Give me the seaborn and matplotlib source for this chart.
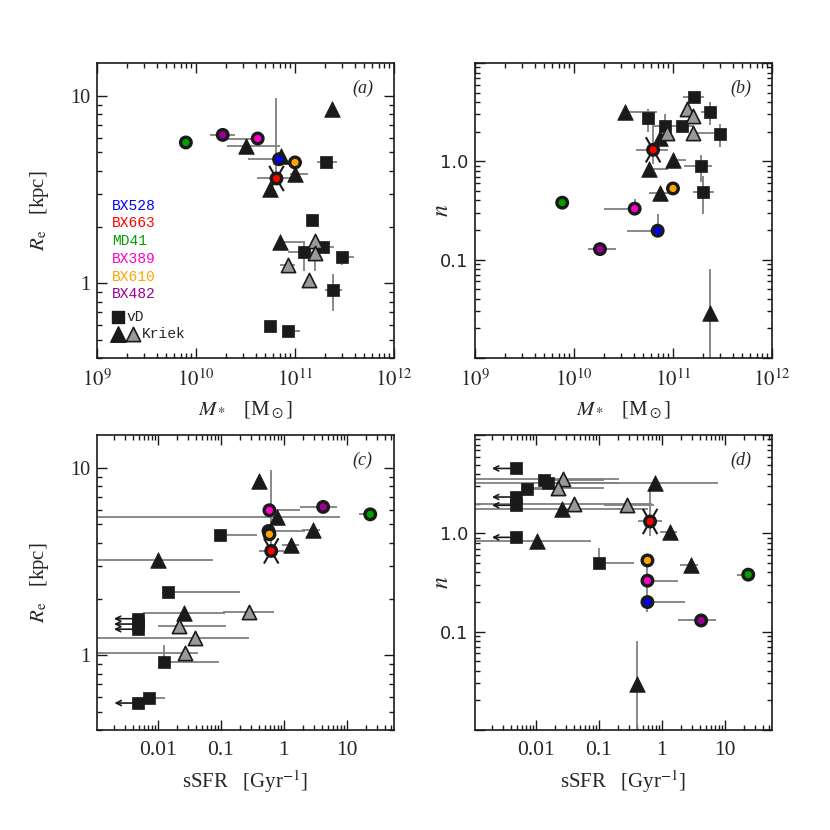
import numpy as np
import pandas as pd
import seaborn as sns
import matplotlib
matplotlib.use("Agg")
import matplotlib.pyplot as plt
from matplotlib.path import Path
from matplotlib.ticker import FixedLocator, FixedFormatter, LogLocator, NullFormatter

# SINS galaxies, same order in every panel
names = ["BX528", "BX663", "MD41", "BX389", "BX610", "BX482"]
colours = ["#0000ff", "#ff0000", "#00a000", "#ff00cc", "#ffa500", "#990099"]

# rows: x, y, x low, x high, y low, y high (None = no bar)
# panel (a): M* [Msun] vs Re [kpc]
a_sins = [
    (6.9e10, 4.60, 3.35e10, None, None, None),
    (6.5e10, 3.63, 4.1e10, 8.9e10, None, 9.8),
    (7.9e9, 5.65),
    (4.2e10, 5.93, 2.05e10, None),
    (1.0e11, 4.42, 8.5e10, 1.18e11),
    (1.86e10, 6.2, 1.38e10, 2.5e10),
]
a_vd = [
    (2.04e11, 4.42, 1.66e11, 2.63e11),
    (1.48e11, 2.18, None, None, 2.05, 2.35),
    (1.24e11, 1.47, 8.5e10, 1.95e11, 1.17, 1.69),
    (1.93e11, 1.57, 1.41e11, 2.46e11),
    (3.0e11, 1.38, 2.63e11, 3.9e11, 1.26, 1.47),
    (2.4e11, 0.925, 2.0e11, 2.95e11, 0.71, 1.12),
    (5.6e10, 0.59, None, None, 0.56, 0.63),
    (8.5e10, 0.557, 7.4e10, 1.12e11),
]
a_kriek = [
    (3.2e10, 5.42, 2.05e10, 7.1e10),
    (5.6e10, 3.19),
    (1.0e11, 3.83, 8.9e10, 1.35e11),
    (2.35e11, 8.5),
    (7.1e10, 1.67, None, 1.2e11),
    (7.3e10, 4.8),
]
a_kriek_grey = [
    (1.6e11, 1.69),
    (1.58e11, 1.45, None, None, 1.17, 1.69),
    (8.5e10, 1.25, 7.1e10, 1.0e11),
    (1.38e11, 1.04),
]

# panel (b): M* vs Sersic n
b_sins = [
    (7.0e10, 0.197, 3.4e10, None, None, 0.29),
    (6.3e10, 1.31, 4.2e10, 8.8e10, 0.93, 2.9),
    (7.6e9, 0.38),
    (4.1e10, 0.33, 2.0e10, None, None, 0.41),
    (1.0e11, 0.53),
    (1.83e10, 0.128, 1.38e10, 2.63e10),
]
b_vd = [
    (1.62e11, 4.47, 1.25e11, 2.04e11),
    (2.35e11, 3.21, 1.9e11, 2.8e11, 2.33, 3.98),
    (5.6e10, 2.78, None, None, 2.0, 3.42),
    (8.3e10, 2.28, 6.4e10, 1.07e11, 1.85, 3.05),
    (1.24e11, 2.28, 1.07e11, 1.62e11),
    (2.95e11, 1.89, None, None, 1.39, 2.42),
    (1.9e11, 0.89, 1.29e11, 2.5e11, 0.61, 1.17),
    (2.0e11, 0.49, 1.58e11, 2.6e11, 0.29, 0.71),
]
b_kriek = [
    (3.3e10, 3.16, None, 6.9e10),
    (7.4e10, 1.71),
    (1.0e11, 1.02, None, 1.35e11),
    (5.7e10, 0.83, None, 8.8e10),
    (7.4e10, 0.48, 5.7e10, 1.02e11),
    (2.35e11, 0.0286, None, None, 0.005, 0.08),
]
b_kriek_grey = [
    (1.38e11, 3.42),
    (1.58e11, 2.87),
    (8.6e10, 1.95),
    (1.59e11, 1.95, None, 2.6e11),
]

# panel (c): sSFR [1/Gyr] vs Re
c_sins = [
    (0.57, 4.61, None, 2.2),
    (0.63, 3.61, 0.4, 1.0, None, 9.8),
    (23.5, 5.66, 15.7, None),
    (0.59, 5.95, None, 1.78),
    (0.59, 4.43),
    (4.2, 6.2, 1.82, 7.1),
]
c_vd = [
    (0.097, 4.4, None, 0.37),
    (0.0145, 2.17, None, 0.2, 2.05, 2.3),
    (0.0125, 0.92, None, 0.093, None, 1.13),
    (0.0072, 0.59, None, 0.0132),
]
c_vd_limits = [(0.0048, 1.57), (0.0048, 1.47), (0.0048, 1.38), (0.0049, 0.557)]
c_kriek = [
    (0.41, 8.5),
    (0.78, 5.47, 1e-4, 7.8),
    (2.92, 4.65, 1.95, 3.8),
    (1.32, 3.87, 0.93, 1.72),
    (0.01, 3.22, 1e-4, 0.074),
    (0.026, 1.68, 0.0058, 0.117),
]
c_kriek_grey = [
    (0.28, 1.70, 0.11, 0.69),
    (0.0216, 1.44, 0.01, 0.12),
    (0.039, 1.24, 1e-4, 0.275),
    (0.027, 1.03, 1e-4, 0.044),
]

# panel (d): sSFR vs n
d_sins = [
    (0.59, 0.20, None, 2.3, 0.16, 0.26),
    (0.65, 1.32, 0.42, 1.0, 0.94, 2.9),
    (23.5, 0.38, 15.7, None),
    (0.59, 0.33, None, 1.78, 0.26, 0.5),
    (0.59, 0.53),
    (4.2, 0.13, 1.82, 7.2),
]
d_vd = [
    (0.0133, 3.49, None, 0.12),
    (0.0154, 3.24, None, 0.2),
    (0.0072, 2.84, None, 0.013),
    (0.1, 0.50, None, 0.36, None, 0.71),
]
d_vd_limits = [(0.0048, 4.57), (0.0048, 2.34), (0.0048, 1.93), (0.0048, 0.91)]
d_kriek = [
    (0.78, 3.28, 1e-4, 7.8),
    (0.026, 1.75, 1e-4, 0.6),
    (1.37, 1.04, 0.93, 1.72),
    (0.0104, 0.83, 1e-4, 0.074),
    (2.92, 0.48, 1.95, 3.8),
    (0.41, 0.0295, None, None, 0.005, 0.08),
]
d_kriek_grey = [
    (0.0273, 3.55, 1e-4, 0.21),
    (0.0222, 2.88, 0.0058, 0.12),
    (0.040, 2.0, 1e-4, 0.69),
    (0.284, 1.96, 0.12, 0.75),
]

BAR = "#808080"
GREY = "#999999"
COLS = ["x", "y", "xlo", "xhi", "ylo", "yhi"]

# four-spoke star drawn behind BX663
_ang = np.deg2rad([60, 120, 240, 300])
STAR = Path(
    [v for a in _ang for v in ((0.0, 0.0), (np.cos(a), np.sin(a)))],
    [c for _ in _ang for c in (Path.MOVETO, Path.LINETO)],
)

sns.set_theme(style="ticks")
plt.rcParams["font.family"] = ["Liberation Serif", "DejaVu Serif"]
plt.rcParams["mathtext.fontset"] = "stix"


def frame(rows):
    rows = [tuple(r) + (None,) * (6 - len(r)) for r in rows]
    return pd.DataFrame(rows, columns=COLS, dtype=float)


def bars(ax, df):
    ax.hlines(df.y, df.xlo.fillna(df.x), df.xhi.fillna(df.x), color=BAR, lw=1.3, zorder=1)
    ax.vlines(df.x, df.ylo.fillna(df.y), df.yhi.fillna(df.y), color=BAR, lw=1.3, zorder=1)


def draw_panel(ax, sins, vd, kriek, kriek_grey, limits=()):
    vd_df, kr_df, krg_df, s_df = frame(vd), frame(kriek), frame(kriek_grey), frame(sins)
    s_df["name"] = names
    for df in (vd_df, kr_df, krg_df, s_df):
        bars(ax, df)
    if limits:
        lim = pd.DataFrame(list(limits), columns=["x", "y"])
        for x, y in zip(lim.x, lim.y):
            ax.annotate("", xy=(x * 10 ** -0.38, y), xytext=(x, y),
                        arrowprops=dict(arrowstyle="->", color="k", lw=1.2,
                                        shrinkA=0, shrinkB=0, mutation_scale=9),
                        zorder=2)
        sns.scatterplot(data=lim, x="x", y="y", marker="s", s=72, color="k",
                        edgecolor="k", linewidth=0.5, ax=ax, zorder=3, legend=False)
    sns.scatterplot(data=vd_df, x="x", y="y", marker="s", s=72, color="k",
                    edgecolor="k", linewidth=0.5, ax=ax, zorder=3, legend=False)
    sns.scatterplot(data=kr_df, x="x", y="y", marker="^", s=125, color="k",
                    edgecolor="k", linewidth=0.6, ax=ax, zorder=3, legend=False)
    sns.scatterplot(data=krg_df, x="x", y="y", marker="^", s=105, color=GREY,
                    edgecolor="k", linewidth=1.2, ax=ax, zorder=3, legend=False)
    red = s_df[s_df.name == "BX663"]
    ax.scatter(red.x, red.y, marker=STAR, s=330, facecolor="none", edgecolor="k",
               lw=1.5, zorder=3.5)
    sns.scatterplot(data=s_df, x="x", y="y", hue="name", hue_order=names,
                    palette=colours, s=58, edgecolor="k", linewidth=2.4,
                    ax=ax, zorder=4, legend=False)


def style(ax, xlim, ylim, xmaj, xlab, ymaj, ylab, xsize):
    ax.set_xscale("log")
    ax.set_yscale("log")
    ax.set_xlim(xlim)
    ax.set_ylim(ylim)
    ax.xaxis.set_major_locator(FixedLocator(xmaj))
    ax.xaxis.set_major_formatter(FixedFormatter(xlab))
    ax.yaxis.set_major_locator(FixedLocator(ymaj))
    ax.yaxis.set_major_formatter(FixedFormatter(ylab))
    for axis in (ax.xaxis, ax.yaxis):
        axis.set_minor_locator(LogLocator(base=10, subs=np.arange(2, 10), numticks=30))
        axis.set_minor_formatter(NullFormatter())
    ax.tick_params(which="both", direction="in", top=True, right=True,
                   width=1.0, color="k")
    ax.tick_params(which="major", length=7)
    ax.tick_params(which="minor", length=3.5)
    ax.tick_params(axis="x", labelsize=xsize, pad=8)
    ax.tick_params(axis="y", labelsize=14.5, pad=5)
    for sp in ax.spines.values():
        sp.set_linewidth(1.2)
        sp.set_color("k")


fig = plt.figure(figsize=(8.3, 8.3), dpi=100)
W, H = 297 / 830, 295 / 830
ax_a = fig.add_axes([97 / 830, 1 - 358 / 830, W, H])
ax_b = fig.add_axes([475 / 830, 1 - 358 / 830, W, H])
ax_c = fig.add_axes([97 / 830, 1 - 730 / 830, W, H])
ax_d = fig.add_axes([475 / 830, 1 - 730 / 830, W, H])

draw_panel(ax_a, a_sins, a_vd, a_kriek, a_kriek_grey)
draw_panel(ax_b, b_sins, b_vd, b_kriek, b_kriek_grey)
draw_panel(ax_c, c_sins, c_vd, c_kriek, c_kriek_grey, c_vd_limits)
draw_panel(ax_d, d_sins, d_vd, d_kriek, d_kriek_grey, d_vd_limits)

mass_ticks = [1e9, 1e10, 1e11, 1e12]
mass_labels = [r"$10^{9}$", r"$10^{10}$", r"$10^{11}$", r"$10^{12}$"]
ssfr_ticks = [0.01, 0.1, 1, 10]
ssfr_labels = ["0.01", "0.1", "1", "10"]
re_ticks, re_labels = [1, 10], ["1", "10"]
n_ticks, n_labels = [0.01, 0.1, 1, 10], ["", "0.1", "1.0", ""]

style(ax_a, (1e9, 1e12), (0.4, 15), mass_ticks, mass_labels, re_ticks, re_labels, 15)
style(ax_b, (1e9, 1e12), (0.01, 10), mass_ticks, mass_labels, n_ticks, n_labels, 15)
style(ax_c, (0.00108, 56), (0.4, 15), ssfr_ticks, ssfr_labels, re_ticks, re_labels, 15.5)
style(ax_d, (0.00108, 56), (0.01, 10), ssfr_ticks, ssfr_labels, n_ticks, n_labels, 15.5)
for ax in (ax_b, ax_d):
    ax.tick_params(axis="y", labelfontfamily="DejaVu Sans", labelsize=13)

for ax in (ax_a, ax_b):
    ax.set_xlabel(r"$M_*$   [M$_\odot$]", fontsize=15)
    ax.xaxis.set_label_coords(0.5, -0.14)
for ax in (ax_c, ax_d):
    ax.set_xlabel(r"sSFR   [Gyr$^{-1}$]", fontsize=15)
    ax.xaxis.set_label_coords(0.5, -0.13)
for ax in (ax_a, ax_c):
    ax.set_ylabel(r"$R_{\rm e}$   [kpc]", fontsize=15)
    ax.yaxis.set_label_coords(-0.155, 0.5)
for ax in (ax_b, ax_d):
    ax.set_ylabel(r"$n$", fontsize=17)
    ax.yaxis.set_label_coords(-0.075, 0.5)

for ax, tag in zip((ax_a, ax_b, ax_c, ax_d), "abcd"):
    ax.text(0.895, 0.915, f"({tag})", transform=ax.transAxes, ha="center",
            va="center", fontsize=13, style="italic")

# legend in panel (a)
for i, (nm, col) in enumerate(zip(names, colours)):
    ax_a.text(0.05, 0.516 - i * 0.06, nm, color=col, transform=ax_a.transAxes,
              ha="left", va="center", fontsize=10.5, family="Liberation Mono")
ax_a.scatter([0.072], [0.14], marker="s", s=72, color="k", transform=ax_a.transAxes)
ax_a.text(0.098, 0.14, "vD", transform=ax_a.transAxes, ha="left", va="center",
          fontsize=10.5, family="Liberation Mono")
ax_a.scatter([0.072], [0.081], marker="^", s=125, color="k", transform=ax_a.transAxes)
ax_a.scatter([0.122], [0.081], marker="^", s=105, color=GREY, edgecolor="k",
             linewidth=1.2, transform=ax_a.transAxes)
ax_a.text(0.15, 0.081, "Kriek", transform=ax_a.transAxes, ha="left", va="center",
          fontsize=10.5, family="Liberation Mono")

fig.savefig("out.png", dpi=100, facecolor="white")
